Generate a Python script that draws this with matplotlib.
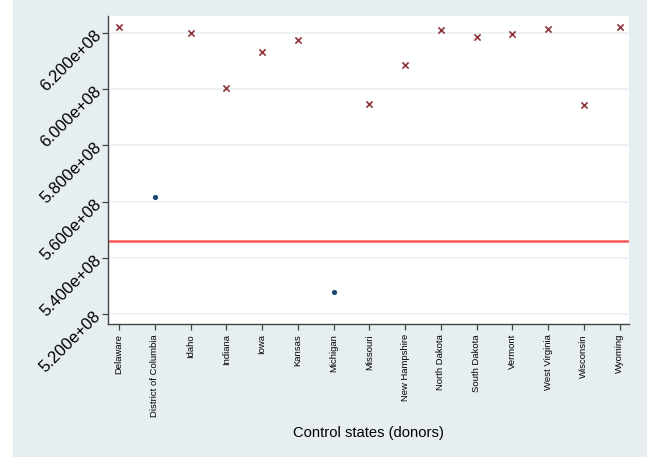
import matplotlib
matplotlib.use("Agg")
import matplotlib.pyplot as plt
from matplotlib.patches import Rectangle
from matplotlib.ticker import FuncFormatter
import numpy as np

states = ["Delaware", "District of Columbia", "Idaho", "Indiana", "Iowa",
          "Kansas", "Michigan", "Missouri", "New Hampshire", "North Dakota",
          "South Dakota", "Vermont", "West Virginia", "Wisconsin", "Wyoming"]
values = [6.2213e8, 5.6153e8, 6.1990e8, 6.0046e8, 6.1300e8,
          6.1730e8, 5.2790e8, 5.9470e8, 6.0850e8, 6.2107e8,
          6.1847e8, 6.1965e8, 6.2142e8, 5.9433e8, 6.2213e8]
dot_states = ["District of Columbia", "Michigan"]
treated_value = 5.459e8
yticks = [5.2e8, 5.4e8, 5.6e8, 5.8e8, 6.0e8, 6.2e8]

plt.rcParams['font.family'] = ['Liberation Sans', 'DejaVu Sans']

bg = '#e6eef1'
fig = plt.figure(figsize=(6.47, 4.57), dpi=100, facecolor=bg)
# thin white margin on the left edge
fig.patches.append(Rectangle((0, 0), 13 / 647, 1, transform=fig.transFigure,
                             facecolor='white', edgecolor='none', zorder=-1))
ax = fig.add_axes([0.1674, 0.2904, 0.9722 - 0.1674, 0.965 - 0.2904])
ax.set_facecolor('white')

x = np.arange(len(states))
vals = np.array(values)
is_dot = np.array([s in dot_states for s in states])

ax.scatter(x[~is_dot], vals[~is_dot], marker='x', s=20, color='#90353b',
           linewidths=1.2, zorder=3)
ax.scatter(x[is_dot], vals[is_dot], marker='o', s=14, color='#1a476f',
           linewidths=0, zorder=3)
ax.axhline(treated_value, color='#ff5858', lw=1.8, zorder=2)

ax.set_xlim(-0.3, len(states) - 1 + 0.26)
ax.set_ylim(5.1645e8, 6.259e8)

ax.set_yticks(yticks)
ax.yaxis.set_major_formatter(FuncFormatter(lambda v, p: '{:.3e}'.format(v)))
ax.grid(axis='y', color='#eaf1f3', lw=1.2, zorder=1)
ax.set_axisbelow(True)

ax.set_xticks(x)
ax.set_xticklabels(states, rotation=90, fontsize=6.8, va='top', ha='center')
for lab in ax.get_yticklabels():
    lab.set_rotation(45)
    lab.set_rotation_mode('anchor')
    lab.set_ha('right')
    lab.set_va('center')
    lab.set_fontsize(12)

ax.tick_params(axis='both', length=4, width=0.9, color='#444444')
ax.tick_params(axis='x', pad=3)
ax.tick_params(axis='y', pad=3)

for side in ['top', 'right']:
    ax.spines[side].set_visible(False)
for side in ['left', 'bottom']:
    ax.spines[side].set_color('#444444')
    ax.spines[side].set_linewidth(1.0)

ax.set_xlabel('Control states (donors)', fontsize=10.6, labelpad=7)

fig.savefig('out.png', dpi=100, facecolor=bg)
